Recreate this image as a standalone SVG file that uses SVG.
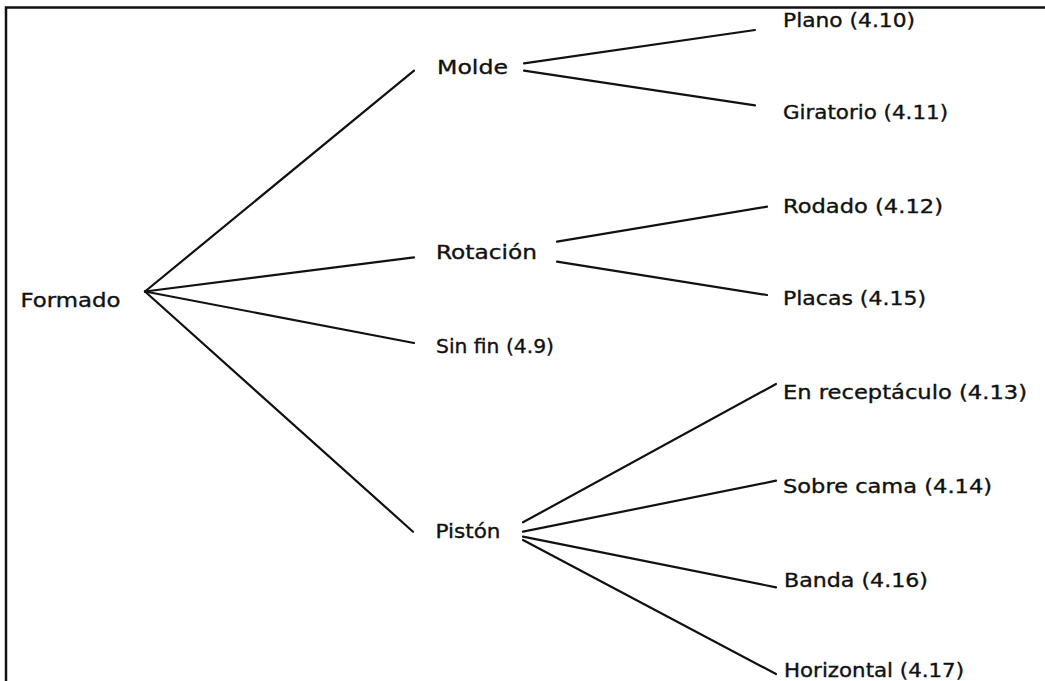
<svg xmlns="http://www.w3.org/2000/svg" width="1045" height="681" viewBox="0 0 1045 681">
<style>
.lbl{font-family:"DejaVu Sans","Liberation Sans",sans-serif;font-size:19px;fill:#111;stroke:#111;stroke-width:0.35;}
.edge{stroke:#111;stroke-width:2.2;fill:none;stroke-linecap:round;}
.frame{stroke:#111;stroke-width:2.5;fill:none;}
</style>
<rect width="1045" height="681" fill="#ffffff"/>
<g id="frame">
<path class="frame" d="M6 681 V7.5 H1045"/>
</g>
<g id="connectors">
<line class="edge" x1="145" y1="291.5" x2="414" y2="70.7"/>
<line class="edge" x1="145" y1="291.5" x2="414" y2="257.3"/>
<line class="edge" x1="145" y1="291.5" x2="414" y2="343"/>
<line class="edge" x1="145" y1="291.5" x2="413" y2="531.7"/>
<line class="edge" x1="524" y1="63.3" x2="755" y2="30"/>
<line class="edge" x1="524" y1="70.7" x2="755" y2="105.3"/>
<line class="edge" x1="557" y1="241.7" x2="767" y2="206.7"/>
<line class="edge" x1="557" y1="261.7" x2="767" y2="295"/>
<line class="edge" x1="523" y1="522.3" x2="776" y2="384"/>
<line class="edge" x1="523" y1="531.7" x2="776" y2="480.7"/>
<line class="edge" x1="523" y1="536.7" x2="776" y2="587.3"/>
<line class="edge" x1="523" y1="540" x2="776" y2="674"/>
</g>
<g id="node-formado"><text class="lbl" x="20.5" y="306.7" textLength="100" lengthAdjust="spacingAndGlyphs">Formado</text></g>
<g id="node-molde"><text class="lbl" x="437" y="74" textLength="71" lengthAdjust="spacingAndGlyphs">Molde</text></g>
<g id="node-rotacion"><text class="lbl" x="436" y="259.3" textLength="101" lengthAdjust="spacingAndGlyphs">Rotación</text></g>
<g id="node-sinfin"><text class="lbl" x="436" y="352.7" textLength="118" lengthAdjust="spacingAndGlyphs">Sin fin (4.9)</text></g>
<g id="node-piston"><text class="lbl" x="435.5" y="538.3" textLength="65" lengthAdjust="spacingAndGlyphs">Pistón</text></g>
<g id="node-plano"><text class="lbl" x="783" y="27.3" textLength="132" lengthAdjust="spacingAndGlyphs">Plano (4.10)</text></g>
<g id="node-giratorio"><text class="lbl" x="783" y="119.3" textLength="165" lengthAdjust="spacingAndGlyphs">Giratorio (4.11)</text></g>
<g id="node-rodado"><text class="lbl" x="783" y="212.7" textLength="160" lengthAdjust="spacingAndGlyphs">Rodado (4.12)</text></g>
<g id="node-placas"><text class="lbl" x="783" y="305" textLength="143" lengthAdjust="spacingAndGlyphs">Placas (4.15)</text></g>
<g id="node-receptaculo"><text class="lbl" x="783" y="399.3" textLength="244" lengthAdjust="spacingAndGlyphs">En receptáculo (4.13)</text></g>
<g id="node-sobrecama"><text class="lbl" x="783" y="492.7" textLength="209" lengthAdjust="spacingAndGlyphs">Sobre cama (4.14)</text></g>
<g id="node-banda"><text class="lbl" x="784" y="586.7" textLength="144" lengthAdjust="spacingAndGlyphs">Banda (4.16)</text></g>
<g id="node-horizontal"><text class="lbl" x="784" y="677" textLength="180" lengthAdjust="spacingAndGlyphs">Horizontal (4.17)</text></g>
</svg>
